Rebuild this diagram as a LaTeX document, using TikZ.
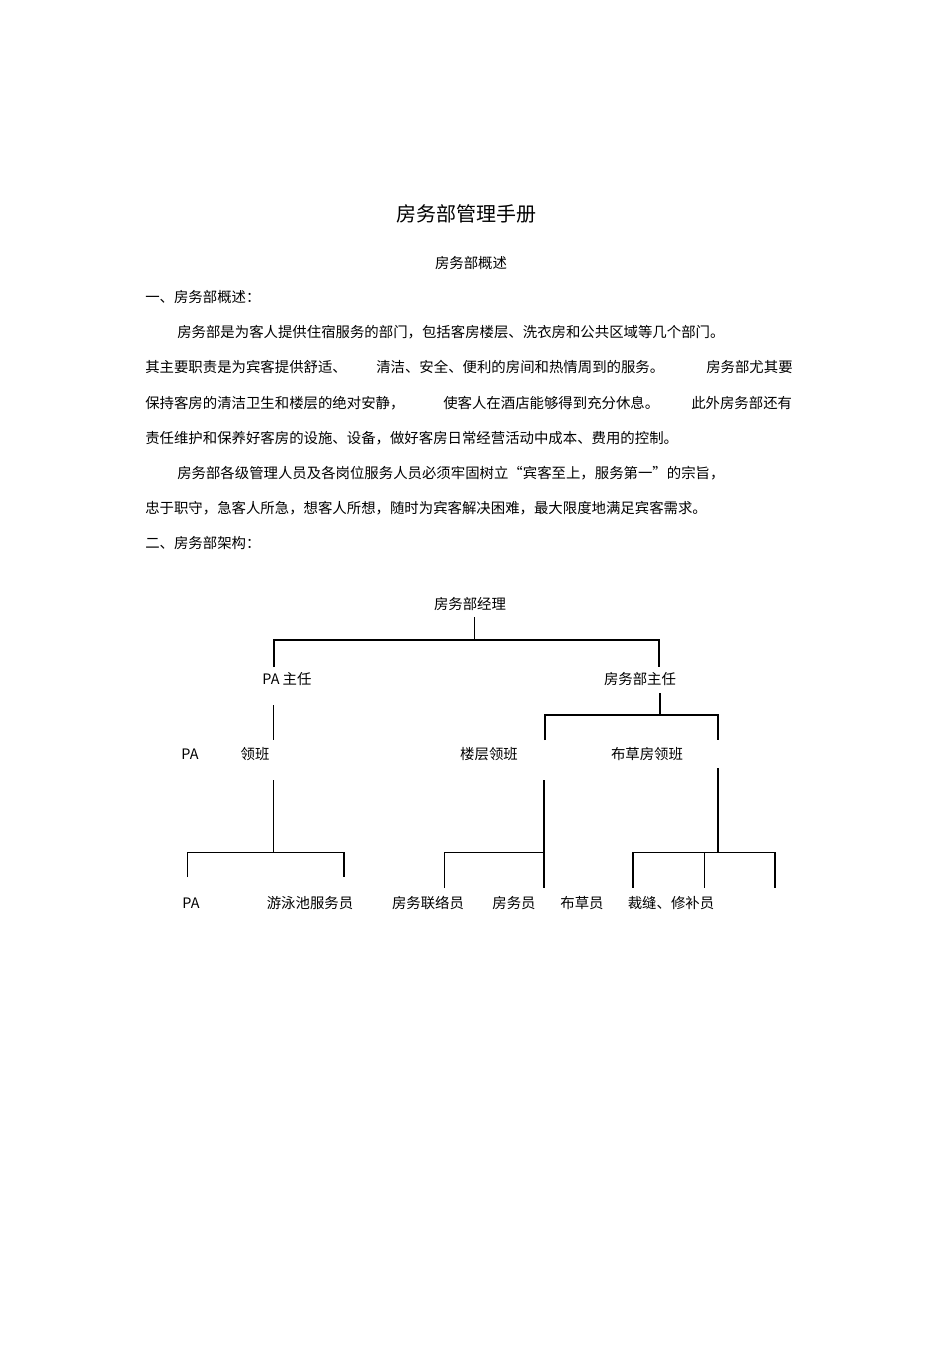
\documentclass[tikz,border=0pt]{standalone}
\usepackage{fontspec}
\setmainfont{Noto Sans CJK SC}
\begin{document}
\begin{tikzpicture}[x=0.75pt,y=-0.75pt,
  tx/.style={font=\fontsize{10.8pt}{12pt}\selectfont,inner sep=0pt},
  bt/.style={tx,anchor=west},
  ln/.style={line width=0.6pt},
  tk/.style={line width=1.4pt}]
\useasboundingbox (0,0) rectangle (950,1345);
\node[tx,font=\fontsize{15pt}{17pt}\selectfont] (title) at (466,214) {房务部管理手册};
\node[tx] (sub) at (471,263) {房务部概述};
\node[bt] (l1) at (145,297) {一、房务部概述：};
\node[bt] (l2) at (177,332) {房务部是为客人提供住宿服务的部门，包括客房楼层、洗衣房和公共区域等几个部门。};
\node[bt] (l3a) at (145,367) {其主要职责是为宾客提供舒适、};
\node[bt] (l3b) at (376,367) {清洁、安全、便利的房间和热情周到的服务。};
\node[bt] (l3c) at (706,367) {房务部尤其要};
\node[bt] (l4a) at (145,403) {保持客房的清洁卫生和楼层的绝对安静，};
\node[bt] (l4b) at (443,403) {使客人在酒店能够得到充分休息。};
\node[bt] (l4c) at (691,403) {此外房务部还有};
\node[bt] (l5) at (145,438) {责任维护和保养好客房的设施、设备，做好客房日常经营活动中成本、费用的控制。};
\node[bt] (l6) at (177,473) {房务部各级管理人员及各岗位服务人员必须牢固树立“宾客至上，服务第一”的宗旨，};
\node[bt] (l7) at (145,508) {忠于职守，急客人所急，想客人所想，随时为宾客解决困难，最大限度地满足宾客需求。};
\node[bt] (l8) at (145,543) {二、房务部架构：};
% org chart
\node[tx] (mgr) at (470,604) {房务部经理};
\node[tx] (pa) at (287,679) {PA 主任};
\node[tx] (hk) at (640,679) {房务部主任};
\node[tx] (pa2) at (190,754) {PA};
\node[tx] (lb) at (255,754) {领班};
\node[tx] (fl) at (489,754) {楼层领班};
\node[tx] (ln) at (647,754) {布草房领班};
\node[tx] (s1) at (191,903) {PA};
\node[tx] (s2) at (310,903) {游泳池服务员};
\node[tx] (s3) at (428,903) {房务联络员};
\node[tx] (s4) at (514,903) {房务员};
\node[tx] (s5) at (582,903) {布草员};
\node[tx] (s6) at (671,903) {裁缝、修补员};
\coordinate (m1) at (474,617);
\coordinate (m2) at (474,640);
\draw[ln] (m1) -- (m2);
\draw[tk] (274,667) -- (274,640) -- (659,640) -- (659,667);
\draw[ln] (273,705) -- (273,740);
\draw[tk] (660,693) -- (660,715);
\draw[tk] (545,740) -- (545,715) -- (718,715) -- (718,740);
\draw[ln] (273,780) -- (273,852);
\draw[ln] (187,877) -- (187,852) -- (344,852);
\draw[tk] (344,852) -- (344,877);
\draw[tk] (544,780) -- (544,888);
\draw[ln] (444,888) -- (444,852) -- (544,852);
\draw[tk] (718,768) -- (718,852);
\draw[ln] (633,852) -- (775,852);
\draw[tk] (633,852) -- (633,888);
\draw[ln] (704,852) -- (704,888);
\draw[tk] (775,852) -- (775,888);
\end{tikzpicture}
\end{document}
